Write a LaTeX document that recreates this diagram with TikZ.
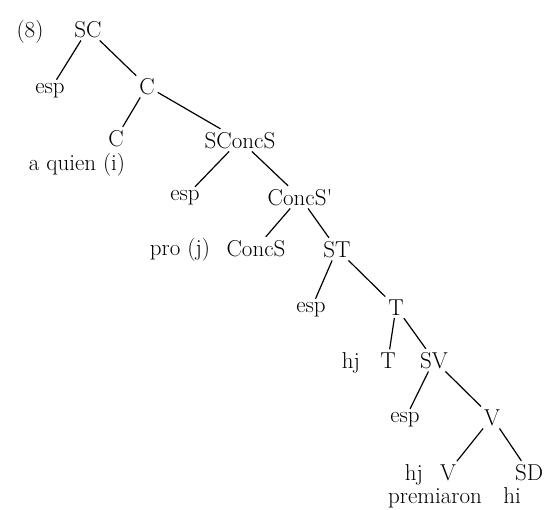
\documentclass[tikz,border=0pt]{standalone}

\begin{document}
\begin{tikzpicture}[x=1pt, y=-1pt, line width=1.2pt,
    lbl/.style={anchor=base, inner sep=2.5pt, font=\fontsize{23}{27}\selectfont}]
  \useasboundingbox (0,0) rectangle (545,509);

  \node[lbl] (ex) at (30,37) {(8)};
  \node[lbl] (sc) at (88,37) {SC};
  \node[lbl] (espA) at (50,93) {esp};
  \node[lbl] (c1) at (147,94) {C};
  \node[lbl] (c2) at (116,146) {C};
  \node[lbl] (aquien) at (77,170) {a quien (i)};
  \node[lbl] (sconcs) at (240,148) {SConcS};
  \node[lbl] (espB) at (185,200) {esp};
  \node[lbl] (concsp) at (300,205) {ConcS\textquotesingle};
  \node[lbl] (pro) at (180,255) {pro (j)};
  \node[lbl] (concs) at (256,256) {ConcS};
  \node[lbl] (st) at (337,257) {ST};
  \node[lbl] (espC) at (311,312) {esp};
  \node[lbl] (t1) at (396,315) {T};
  \node[lbl] (hjA) at (351,368) {hj};
  \node[lbl] (t2) at (388,368) {T};
  \node[lbl] (sv) at (434,368) {SV};
  \node[lbl] (espD) at (405,422) {esp};
  \node[lbl] (v1) at (492,425) {V};
  \node[lbl] (hjB) at (414,480) {hj};
  \node[lbl] (v2) at (448,480) {V};
  \node[lbl] (sd) at (529,480) {SD};
  \node[lbl] (premiaron) at (435,503) {premiaron};
  \node[lbl] (hi) at (512,503) {hi};

  \draw (sc)--(espA);
  \draw (sc)--(c1);
  \draw (c1)--(c2);
  \draw (c1)--(sconcs);
  \draw (sconcs)--(espB);
  \draw (sconcs)--(concsp);
  \draw (concsp)--(concs);
  \draw (concsp)--(st);
  \draw (st)--(espC);
  \draw (st)--(t1);
  \draw (t1)--(t2);
  \draw (t1)--(sv);
  \draw (sv)--(espD);
  \draw (sv)--(v1);
  \draw (v1)--(v2);
  \draw (v1)--(sd);
\end{tikzpicture}
\end{document}
